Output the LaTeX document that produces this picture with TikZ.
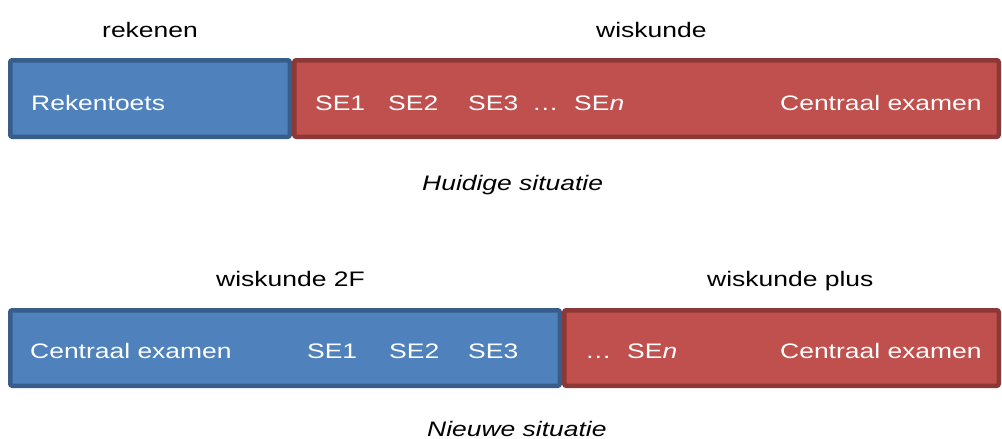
\documentclass[tikz,border=0pt]{standalone}
\usepackage{fontspec}
\setmainfont{Liberation Sans}[FakeStretch=1.26]
\definecolor{bfill}{HTML}{4F81BD}
\definecolor{bborder}{HTML}{385D8A}
\definecolor{rfill}{HTML}{C0504D}
\definecolor{rborder}{HTML}{8C3836}
\begin{document}
\begin{tikzpicture}[x=1pt,y=-1pt,
  box/.style={line width=4.5pt, rounded corners=2pt},
  bluebox/.style={box, draw=bborder, fill=bfill},
  redbox/.style={box, draw=rborder, fill=rfill},
  lbl/.style={anchor=base west, inner sep=0pt, font=\fontsize{21}{25}\selectfont},
  inlbl/.style={lbl, text=white}]
\useasboundingbox (0,0) rectangle (1002,439);
% top row
\path[bluebox] (10.25,60.25) rectangle (289.75,136.75);
\path[redbox] (294.25,60.25) rectangle (998.75,136.75);
\node[lbl] (rek) at (102,37) {rekenen};
\node[lbl] (wis) at (596,37) {wiskunde};
\node[inlbl] (rt) at (31,110) {Rekentoets};
\node[inlbl] (a1) at (315,110) {SE1};
\node[inlbl] (a2) at (388,110) {SE2};
\node[inlbl] (a3) at (468,110) {SE3};
\node[inlbl] (ad) at (532,110) {…};
\node[inlbl] (an) at (574,110) {SE\textit{n}};
\node[inlbl] (ace) at (780,110) {Centraal examen};
\node[lbl] (hs) at (422,190) {\itshape Huidige situatie};
% bottom row
\path[bluebox] (10.25,310.25) rectangle (559.75,385.75);
\path[redbox] (564.25,310.25) rectangle (998.75,385.75);
\node[lbl] (w2f) at (216,286) {wiskunde 2F};
\node[lbl] (wp) at (707,286) {wiskunde plus};
\node[inlbl] (bce) at (30,358) {Centraal examen};
\node[inlbl] (b1) at (307,358) {SE1};
\node[inlbl] (b2) at (389,358) {SE2};
\node[inlbl] (b3) at (468,358) {SE3};
\node[inlbl] (bd) at (585,358) {…};
\node[inlbl] (bn) at (627,358) {SE\textit{n}};
\node[inlbl] (bce2) at (780,358) {Centraal examen};
\node[lbl] (ns) at (427,436) {\itshape Nieuwe situatie};
\end{tikzpicture}
\end{document}
